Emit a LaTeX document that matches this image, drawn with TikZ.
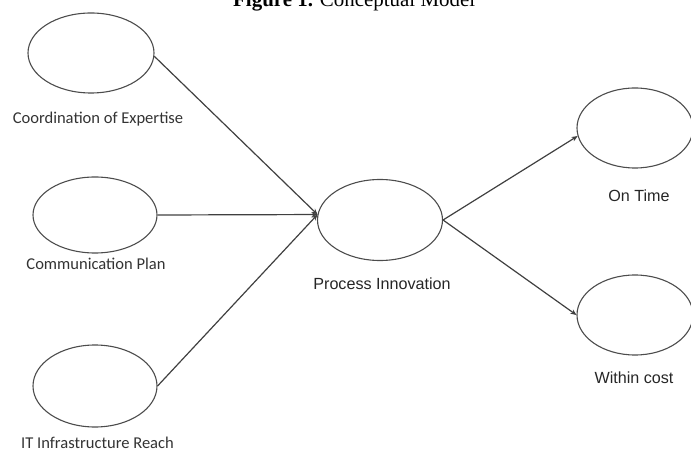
\documentclass[tikz,border=0pt]{standalone}
\usepackage{fontspec}
\setmainfont{Liberation Serif}
\newfontfamily\calfont{Carlito}
\newfontfamily\arialfont{Liberation Sans}
\usetikzlibrary{shapes.geometric,arrows.meta}
\begin{document}
\begin{tikzpicture}[x=1bp,y=-1bp,
  construct/.style={draw=black!70,line width=1.1bp,ellipse,inner sep=0pt},
  leftlab/.style={anchor=base,inner sep=0pt,text=black!80,font=\calfont\fontsize{16.6}{18}\selectfont},
  rightlab/.style={anchor=base,inner sep=0pt,text=black!85,font=\arialfont\fontsize{16.2}{18}\selectfont},
  link/.style={draw=black!75,line width=1.2bp,-{Stealth[length=6bp,width=5bp]}}]
\useasboundingbox (0,0) rectangle (691,451);
\clip (0,0) rectangle (691,451);
% title (cut off at the top)
\node[anchor=base west,inner sep=0pt,font=\fontsize{21}{24}\selectfont] (title) at (233,6.5) {\textbf{Figure 1.} Conceptual Model};
% ellipses
\node[construct,minimum width=126bp,minimum height=80bp] (coord) at (91,53) {};
\node[construct,minimum width=124bp,minimum height=76bp] (comm) at (95,215) {};
\node[construct,minimum width=124bp,minimum height=82bp] (it) at (95,386) {};
\node[construct,minimum width=125bp,minimum height=81bp] (pi) at (380,220) {};
\node[construct,minimum width=116bp,minimum height=80bp] (ot) at (635,128) {};
\node[construct,minimum width=116bp,minimum height=80bp] (wc) at (635,315) {};
% labels
\node[leftlab] (lcoord) at (98,124) {Coordination of Expertise};
\node[leftlab] (lcomm) at (96,270) {Communication Plan};
\node[leftlab] (lit) at (97.5,448) {IT Infrastructure Reach};
\node[rightlab] (lpi) at (382,290) {Process Innovation};
\node[rightlab] (lot) at (639,202) {On Time};
\node[rightlab] (lwc) at (634,383) {Within cost};
% connectors
\draw[link] (coord.-3) -- (pi.175);
\draw[link] (comm.east) -- (pi.175);
\draw[link] (it.east) -- (pi.175);
\draw[link] (pi.east) -- (ot.188);
\draw[link] (pi.east) -- (wc.west);
\end{tikzpicture}
\end{document}
